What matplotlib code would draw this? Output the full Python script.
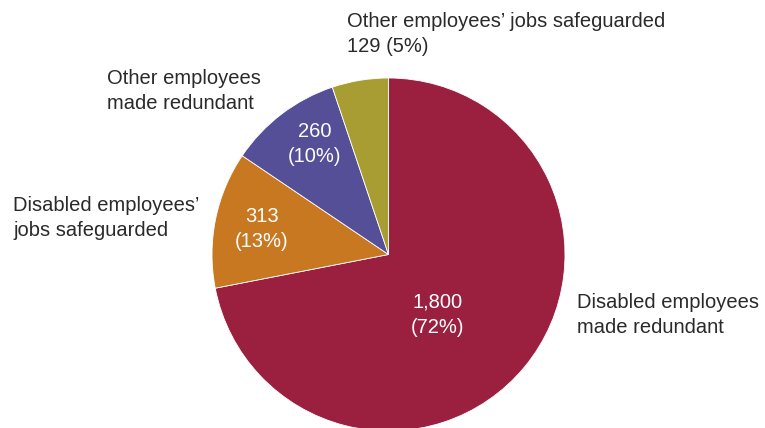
import matplotlib
matplotlib.use("Agg")
import matplotlib.pyplot as plt

# slices, clockwise from 12 o'clock
labels = ["Disabled employees\nmade redundant",
          "Disabled employees’\njobs safeguarded",
          "Other employees\nmade redundant",
          "Other employees’ jobs safeguarded"]
counts = [1800, 313, 260, 129]
shares = [72, 13, 10, 5]
colors = ["#9b2040", "#c87821", "#544f97", "#a89d33"]

plt.rcParams['font.family'] = ['Liberation Sans', 'DejaVu Sans']
FS = 14.5
LS = 1.42
W, H = 765, 428

fig = plt.figure(figsize=(W / 100, H / 100), dpi=100)
ax = fig.add_axes([0, 0, 1, 1])

cx, cy, r = 388.5, H - 254.5, 176.5
wedges, _ = ax.pie(counts, colors=colors, startangle=90, counterclock=False,
                   center=(cx, cy), radius=r, frame=True,
                   wedgeprops=dict(edgecolor='white', linewidth=0.6))
ax.set_xlim(0, W)
ax.set_ylim(0, H)
ax.set_aspect('auto')
ax.axis('off')

def px(x, y):
    return x, H - y

# value labels inside the wedges
inner = [(438, 315), (262, 229), (315, 144)]
for (x, y), n, p in zip(inner, counts[:3], shares[:3]):
    ax.text(*px(x, y), f"{n:,}\n({p}%)", color='white', fontsize=FS,
            ha='center', va='center', linespacing=LS)

# outside labels
txt = '#2a2a2a'
ax.text(*px(577, 315), labels[0], fontsize=FS, color=txt,
        ha='left', va='center', linespacing=LS)
ax.text(*px(13, 218), labels[1], fontsize=FS, color=txt,
        ha='left', va='center', linespacing=LS)
ax.text(*px(107, 91), labels[2], fontsize=FS, color=txt,
        ha='left', va='center', linespacing=LS)
ax.text(*px(347, 34), f"{labels[3]}\n{counts[3]} ({shares[3]}%)", fontsize=FS,
        color=txt, ha='left', va='center', linespacing=LS)

fig.savefig("out.png", dpi=100)
